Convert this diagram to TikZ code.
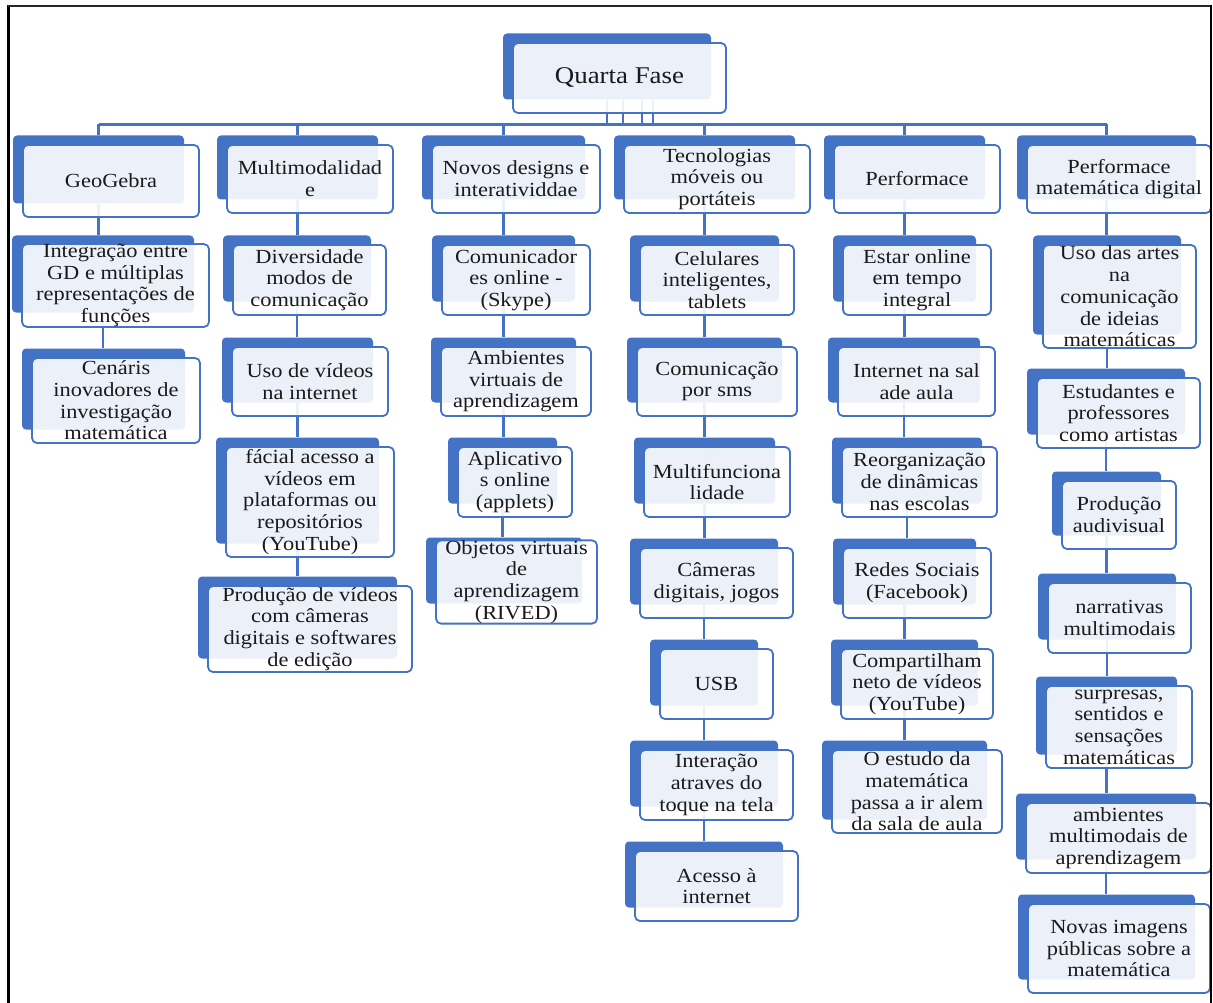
\documentclass[tikz,border=0pt]{standalone}
\usepackage{fontspec}
\setmainfont[FakeStretch=1.12]{Liberation Serif}
\definecolor{sablue}{HTML}{4472C4}
\definecolor{txt}{HTML}{1A1A1A}
\pgfdeclarelayer{bg}
\pgfdeclarelayer{mid}
\pgfsetlayers{bg,mid,main}
\tikzset{
  backbox/.style={fill=sablue, draw=none, rounded corners=4pt, inner sep=0pt},
  frontbox/.style={draw=sablue, line width=1.8pt, fill=white, fill opacity=0.9, text opacity=1,
    rounded corners=5pt, inner sep=0pt, align=center, text=txt,
    font=\fontsize{20}{21.7}\selectfont},
  conn/.style={draw=sablue, line width=2.2pt},
}
% name, fx1, fy1, fx2, fy2, text
\newcommand\elem[6]{%
  \begin{pgfonlayer}{bg}
    \node[backbox, minimum width={#4-#2-5}, minimum height={#5-#3-4}]
      (#1b) at ({(#2+#4-25)/2},{(#3+#5-23)/2}) {};
  \end{pgfonlayer}
  \node[frontbox, minimum width={#4-#2}, minimum height={#5-#3}]
    (#1) at ({(#2+#4)/2},{(#3+#5)/2}) {#6};
}
\newcommand\link[2]{\draw[conn] (#1b.south) -- (#1b.south |- #2b.north);}
\begin{document}
\begin{tikzpicture}[x=1pt,y=-1pt]
\useasboundingbox (0,0) rectangle (1213,1003);
\begin{pgfonlayer}{bg}
\fill[white] (0,0) rectangle (1213,1003);
\end{pgfonlayer}

% root
\elem{root}{513}{43}{726}{113}{\fontsize{24}{26}\selectfont Quarta Fase}

% column 1
\elem{Ga}{23}{145}{199}{217}{GeoGebra}
\elem{Gb}{22}{245}{209}{326}{Integração entre\\GD e múltiplas\\representações de\\funções}
\elem{Gc}{32}{358}{200}{443}{Cenáris\\inovadores de\\investigação\\matemática}

% column 2
\elem{Ma}{227}{145}{393}{213}{Multimodalidad\\e}
\elem{Mb}{233}{245}{386}{315}{Diversidade\\modos de\\comunicação}
\elem{Mc}{232}{347}{388}{416}{Uso de vídeos\\na internet}
\elem{Md}{226}{447}{394}{557}{fácial acesso a\\vídeos em\\plataformas ou\\repositórios\\(YouTube)}
\elem{Me}{208}{586}{412}{672}{Produção de vídeos\\com câmeras\\digitais e softwares\\de edição}

% column 3
\elem{Na}{432}{145}{600}{213}{Novos designs e\\interatividdae}
\elem{Nb}{442}{245}{590}{315}{Comunicador\\es online -\\(Skype)}
\elem{Nc}{441}{347}{591}{416}{Ambientes\\virtuais de\\aprendizagem}
\elem{Nd}{458}{447}{572}{517}{Aplicativo\\s online\\(applets)}
\elem{Ne}{436}{547}{597}{617}{Objetos virtuais\\de\\aprendizagem\\(RIVED)}

% column 4
\elem{Ta}{624}{145}{810}{213}{Tecnologias\\móveis ou\\portáteis}
\elem{Tb}{640}{245}{794}{315}{Celulares\\inteligentes,\\tablets}
\elem{Tc}{637}{347}{797}{416}{Comunicação\\por sms}
\elem{Td}{644}{447}{790}{517}{Multifunciona\\lidade}
\elem{Te}{640}{548}{793}{618}{Câmeras\\digitais, jogos}
\elem{Tf}{660}{649}{773}{719}{USB}
\elem{Tg}{640}{750}{793}{820}{Interação\\atraves do\\toque na tela}
\elem{Th}{635}{851}{798}{921}{Acesso à\\internet}

% column 5
\elem{Pa}{834}{145}{1000}{213}{Performace}
\elem{Pb}{843}{245}{991}{315}{Estar online\\em tempo\\integral}
\elem{Pc}{838}{347}{995}{416}{Internet na sal\\ade aula}
\elem{Pd}{842}{447}{997}{517}{Reorganização\\de dinâmicas\\nas escolas}
\elem{Pe}{843}{548}{991}{618}{Redes Sociais\\(Facebook)}
\elem{Pf}{841}{649}{993}{719}{Compartilham\\neto de vídeos\\(YouTube)}
\elem{Pg}{832}{750}{1002}{833}{O estudo da\\matemática\\passa a ir alem\\da sala de aula}

% column 6
\elem{Da}{1027}{145}{1211}{213}{Performace\\matemática digital}
\elem{Db}{1043}{245}{1196}{348}{Uso das artes\\na\\comunicação\\de ideias\\matemáticas}
\elem{Dc}{1037}{378}{1200}{448}{Estudantes e\\professores\\como artistas}
\elem{Dd}{1062}{481}{1176}{549}{Produção\\audivisual}
\elem{De}{1048}{583}{1191}{653}{narrativas\\multimodais}
\elem{Df}{1046}{686}{1192}{768}{surpresas,\\sentidos e\\sensações\\matemáticas}
\elem{Dg}{1026}{803}{1211}{873}{ambientes\\multimodais de\\aprendizagem}
\elem{Dh}{1028}{904}{1210}{993}{Novas imagens\\públicas sobre a\\matemática}

\begin{pgfonlayer}{mid}
  \coordinate (bus) at (0,124.5);
  \foreach \dx in {0,16,35,46}
    \draw[conn] ([xshift=\dx pt]rootb.south) -- ([xshift=\dx pt]rootb.south |- bus);
  \draw[conn] (Gab.north |- bus) -- (Dab.north |- bus);
  \foreach \n in {Ga,Ma,Na,Ta,Pa,Da}
    \draw[conn] (\n b.north |- bus) -- (\n b.north);
  \link{Ga}{Gb}\link{Gb}{Gc}
  \link{Ma}{Mb}\link{Mb}{Mc}\link{Mc}{Md}\link{Md}{Me}
  \link{Na}{Nb}\link{Nb}{Nc}\link{Nc}{Nd}\link{Nd}{Ne}
  \link{Ta}{Tb}\link{Tb}{Tc}\link{Tc}{Td}\link{Td}{Te}\link{Te}{Tf}\link{Tf}{Tg}\link{Tg}{Th}
  \link{Pa}{Pb}\link{Pb}{Pc}\link{Pc}{Pd}\link{Pd}{Pe}\link{Pe}{Pf}\link{Pf}{Pg}
  \link{Da}{Db}\link{Db}{Dc}\link{Dc}{Dd}\link{Dd}{De}\link{De}{Df}\link{Df}{Dg}\link{Dg}{Dh}
\end{pgfonlayer}

% frame
\draw[black, line width=2.8pt] (8.5,1004) -- (8.5,5.5);
\draw[black!85, line width=1.8pt] (7.5,6) -- (1212,6);
\draw[black, line width=2.6pt] (1211,5.5) -- (1211,1004);
\end{tikzpicture}
\end{document}
